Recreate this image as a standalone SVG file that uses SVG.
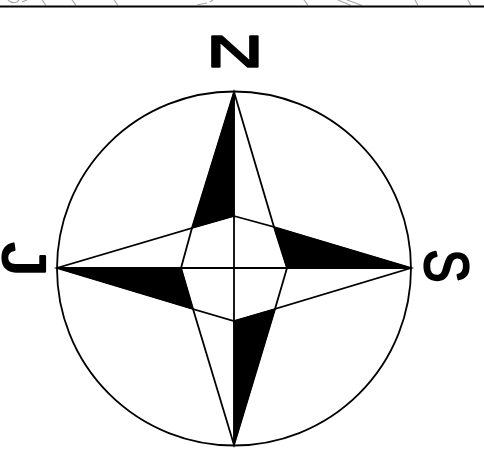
<svg xmlns="http://www.w3.org/2000/svg" width="484" height="449" viewBox="0 0 484 449">
<style>
.l{fill:none;stroke:#000;stroke-width:1.8}
.f{fill:#000;stroke:#000;stroke-width:1}
.t{font-family:"Liberation Sans",Arial,sans-serif;font-size:40px;fill:#000;stroke:#000;stroke-width:1.4;stroke-linejoin:round;text-anchor:middle}
.g{fill:none;stroke:#aaa;stroke-width:1.2}
</style>
<rect width="484" height="449" fill="#fff"/>
<g id="scribbles">
<path class="g" d="M8 0Q12 4 17 2L19 0M22 2 27 0M42 0 46 5.500M72 0 76 5.500M114 0 118 5.500M197 5 207 3M210 2 213 0M304 0 308 5.500M338 0 351 5.500M347 0 362 5.500M415 0 418 5.500M468 0 471 5.500"/>
</g>
<path d="M0 6.500H484" stroke="#000" stroke-width="2" fill="none"/>
<g id="compass">
<circle class="l" cx="234" cy="268.500" r="177"/>
<path class="f" d="M234 92 192 228 234 216Z"/>
<path class="f" d="M411 268 274 227 287 268Z"/>
<path class="f" d="M234 445 275 309 234 321Z"/>
<path class="f" d="M57 268 193 309 181 268Z"/>
<path class="l" d="M234 92 274 227 411 268 275 309 234 445 193 309 57 268 192 228Z"/>
<path class="l" d="M234 92V445M57 268H411M234 216 274 227 287 268 275 309 234 321 193 309 181 268 192 228Z"/>
</g>
<g id="label-n"><text class="t" transform="translate(235 66.500) scale(2 1.12)">N</text></g>
<g id="label-s"><text class="t" transform="translate(425 266) rotate(90) scale(1.25 1.58)">S</text></g>
<g id="label-j"><text class="t" transform="translate(2.500 259.500) rotate(90) scale(1.7 1.55)">J</text></g>
</svg>
